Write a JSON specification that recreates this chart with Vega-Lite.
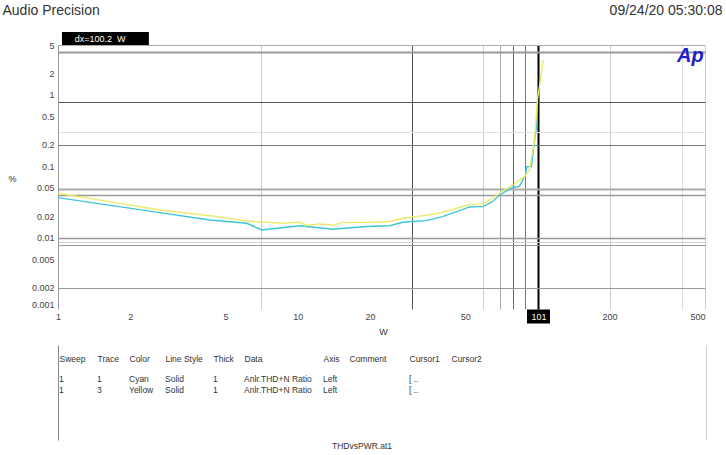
{
  "$schema": "https://vega.github.io/schema/vega-lite/v6.json",
  "background": "#ffffff",
  "padding": {"left": 2, "top": 3, "right": 4, "bottom": 5},
  "bounds": "flush",
  "spacing": 36,
  "title": {"text": "THDvsPWR.at1", "orient": "bottom", "anchor": "middle", "frame": "group", "offset": 2, "dx": 304, "fontSize": 8.5, "fontWeight": "normal", "color": "#333333"},
  "config": {
    "view": {"stroke": null},
    "font": "Liberation Sans",
    "axis": {"labelFont": "Liberation Sans", "titleFont": "Liberation Sans"},
    "title": {"font": "Liberation Sans"}
  },
  "datasets": {
    "curves": [
      {"series": "Cyan", "W": 1.0, "pct": 0.0363},
      {"series": "Cyan", "W": 1.5, "pct": 0.0297},
      {"series": "Cyan", "W": 2.66, "pct": 0.0224},
      {"series": "Cyan", "W": 4.3, "pct": 0.0177},
      {"series": "Cyan", "W": 6.13, "pct": 0.0159},
      {"series": "Cyan", "W": 7.08, "pct": 0.0128},
      {"series": "Cyan", "W": 10.2, "pct": 0.0147},
      {"series": "Cyan", "W": 14.0, "pct": 0.0131},
      {"series": "Cyan", "W": 19.4, "pct": 0.0143},
      {"series": "Cyan", "W": 24.2, "pct": 0.0147},
      {"series": "Cyan", "W": 27.4, "pct": 0.0164},
      {"series": "Cyan", "W": 30.1, "pct": 0.0168},
      {"series": "Cyan", "W": 34.5, "pct": 0.0173},
      {"series": "Cyan", "W": 40.2, "pct": 0.0197},
      {"series": "Cyan", "W": 46.0, "pct": 0.0231},
      {"series": "Cyan", "W": 52.1, "pct": 0.0269},
      {"series": "Cyan", "W": 59.6, "pct": 0.0274},
      {"series": "Cyan", "W": 64.9, "pct": 0.0319},
      {"series": "Cyan", "W": 69.5, "pct": 0.0396},
      {"series": "Cyan", "W": 78.7, "pct": 0.0505},
      {"series": "Cyan", "W": 84.1, "pct": 0.0522},
      {"series": "Cyan", "W": 89.1, "pct": 0.0755},
      {"series": "Cyan", "W": 90.2, "pct": 0.0988},
      {"series": "Cyan", "W": 94.4, "pct": 0.0988},
      {"series": "Cyan", "W": 96.2, "pct": 0.169},
      {"series": "Cyan", "W": 99.0, "pct": 0.359},
      {"series": "Cyan", "W": 100.0, "pct": 0.684},
      {"series": "Yellow", "W": 1.0, "pct": 0.0419},
      {"series": "Yellow", "W": 1.5, "pct": 0.0335},
      {"series": "Yellow", "W": 2.66, "pct": 0.0244},
      {"series": "Yellow", "W": 4.3, "pct": 0.0203},
      {"series": "Yellow", "W": 6.13, "pct": 0.0171},
      {"series": "Yellow", "W": 7.43, "pct": 0.0164},
      {"series": "Yellow", "W": 8.66, "pct": 0.0159},
      {"series": "Yellow", "W": 10.2, "pct": 0.0164},
      {"series": "Yellow", "W": 10.9, "pct": 0.0148},
      {"series": "Yellow", "W": 12.35, "pct": 0.0156},
      {"series": "Yellow", "W": 14.0, "pct": 0.015},
      {"series": "Yellow", "W": 15.4, "pct": 0.0162},
      {"series": "Yellow", "W": 20.5, "pct": 0.0164},
      {"series": "Yellow", "W": 24.2, "pct": 0.0168},
      {"series": "Yellow", "W": 27.4, "pct": 0.0187},
      {"series": "Yellow", "W": 32.2, "pct": 0.02},
      {"series": "Yellow", "W": 39.0, "pct": 0.022},
      {"series": "Yellow", "W": 46.0, "pct": 0.0258},
      {"series": "Yellow", "W": 52.1, "pct": 0.029},
      {"series": "Yellow", "W": 59.6, "pct": 0.0297},
      {"series": "Yellow", "W": 69.5, "pct": 0.0419},
      {"series": "Yellow", "W": 78.7, "pct": 0.0547},
      {"series": "Yellow", "W": 88.3, "pct": 0.0715},
      {"series": "Yellow", "W": 92.6, "pct": 0.0887},
      {"series": "Yellow", "W": 97.2, "pct": 0.234},
      {"series": "Yellow", "W": 100.0, "pct": 0.849},
      {"series": "Yellow", "W": 102.9, "pct": 1.62},
      {"series": "Yellow", "W": 105.9, "pct": 3.08}
    ],
    "table": [
      {"Sweep": "1", "Trace": 1, "Color": "Cyan", "LineStyle": "Solid", "Thick": "1", "Data": "Anlr.THD+N Ratio", "Axis": "Left", "Comment": "", "Cursor1": "[ ..", "Cursor2": ""},
      {"Sweep": "1", "Trace": 3, "Color": "Yellow", "LineStyle": "Solid", "Thick": "1", "Data": "Anlr.THD+N Ratio", "Axis": "Left", "Comment": "", "Cursor1": "[ ..", "Cursor2": ""}
    ]
  },
  "vconcat": [
    {
      "width": 647,
      "height": 264,
      "data": {"name": "curves"},
      "resolve": {"axis": {"x": "independent", "y": "independent"}},
      "layer": [
        {
          "mark": {"type": "line", "strokeWidth": 1.4},
          "encoding": {
            "x": {
              "field": "W", "type": "quantitative",
              "scale": {"type": "log", "domain": [1, 500], "nice": false},
              "axis": {
                "values": [1, 2, 5, 7, 10, 20, 30, 50, 59, 69.5, 79, 89, 101, 200, 400, 500],
                "format": "~g",
                "labelExpr": "indexof([1, 2, 5, 10, 20, 50, 101, 200, 500], datum.value) >= 0 ? datum.label : ''",
                "labelOverlap": false,
                "labelFontSize": 9,
                "labelPadding": -10.5,
                "labelColor": {"condition": {"test": "datum.value == 101", "value": "#ffffff"}, "value": "#444444"},
                "labelAlign": {"condition": {"test": "datum.value == 500", "value": "right"}, "value": "center"},
                "ticks": true,
                "tickSize": 14,
                "tickColor": "#000000",
                "tickWidth": {"condition": {"test": "datum.value == 101", "value": 23}, "value": 0},
                "tickOpacity": {"condition": {"test": "datum.value == 101", "value": 1}, "value": 0},
                "domain": false,
                "grid": true,
                "gridColor": {"condition": [
                  {"test": "datum.value == 30", "value": "#555555"},
                  {"test": "datum.value == 69.5", "value": "#aaaaaa"},
                  {"test": "datum.value == 79", "value": "#666666"},
                  {"test": "datum.value == 89", "value": "#777777"},
                  {"test": "datum.value == 101", "value": "#000000"},
                  {"test": "datum.value == 400", "value": "#dddddd"}
                ], "value": "#cccccc"},
                "gridWidth": {"condition": {"test": "datum.value == 101", "value": 2}, "value": 1},
                "gridOpacity": {"condition": {"test": "indexof([7, 30, 59, 69.5, 79, 89, 101, 200, 400, 500], datum.value) >= 0", "value": 1}, "value": 0},
                "title": "W",
                "titleFontSize": 9,
                "titleFontWeight": "normal",
                "titleColor": "#333333",
                "titleX": 325,
                "titleY": 22,
                "titleBaseline": "middle"
              }
            },
            "y": {
              "field": "pct", "type": "quantitative",
              "scale": {"type": "log", "domain": [0.001, 5], "nice": false},
              "axis": {
                "values": [5, 4, 2, 1, 0.8, 0.5, 0.3, 0.2, 0.1, 0.05, 0.048, 0.04, 0.02, 0.01, 0.0088, 0.0079, 0.005, 0.002, 0.001],
                "format": "~g",
                "labelExpr": "indexof([5, 2, 1, 0.5, 0.2, 0.1, 0.05, 0.02, 0.01, 0.005, 0.002, 0.001], datum.value) >= 0 ? datum.label : ''",
                "labelOverlap": false,
                "labelFontSize": 9,
                "labelColor": "#444444",
                "labelPadding": 4,
                "labelBaseline": {"condition": {"test": "datum.value == 0.001", "value": "bottom"}, "value": "middle"},
                "ticks": false,
                "domain": true,
                "domainColor": "#999999",
                "grid": true,
                "gridColor": {"condition": [
                  {"test": "datum.value == 5", "value": "#aaaaaa"},
                  {"test": "datum.value == 0.8", "value": "#555555"},
                  {"test": "datum.value == 0.3", "value": "#e2e2e2"},
                  {"test": "datum.value == 0.2", "value": "#777777"},
                  {"test": "datum.value == 0.048", "value": "#aaaaaa"},
                  {"test": "datum.value == 0.0088", "value": "#cccccc"}
                ], "value": "#999999"},
                "gridWidth": {"condition": [
                  {"test": "datum.value == 4", "value": 2},
                  {"test": "datum.value == 0.048", "value": 2},
                  {"test": "datum.value == 0.04", "value": 1.5},
                  {"test": "datum.value == 0.01", "value": 1.5}
                ], "value": 1},
                "gridOpacity": {"condition": {"test": "indexof([5, 4, 0.8, 0.3, 0.2, 0.048, 0.04, 0.01, 0.0088, 0.0079, 0.002], datum.value) >= 0", "value": 1}, "value": 0},
                "title": "%",
                "titleAngle": 0,
                "titleX": -46,
                "titleY": 133,
                "titleAlign": "center",
                "titleBaseline": "middle",
                "titleFontSize": 9,
                "titleFontWeight": "normal",
                "titleColor": "#333333"
              }
            },
            "color": {"field": "series", "type": "nominal", "scale": {"domain": ["Cyan", "Yellow"], "range": ["#40c4d8", "#ecec6a"]}, "legend": null}
          }
        },
        {
          "data": {"values": [{}]},
          "mark": {"type": "rect", "color": "#000000"},
          "encoding": {
            "x": {"datum": 1.039, "type": "quantitative", "axis": null},
            "x2": {"datum": 2.394},
            "y": {"datum": 7.6, "type": "quantitative", "axis": null},
            "y2": {"datum": 5}
          }
        },
        {
          "data": {"values": [{}]},
          "mark": {"type": "text", "text": "dx=100.2\u00a0 W", "color": "#ffffff", "fontSize": 9, "align": "center", "baseline": "middle"},
          "encoding": {
            "x": {"datum": 1.5, "type": "quantitative", "axis": null},
            "y": {"datum": 6.07, "type": "quantitative", "axis": null}
          }
        },
        {
          "data": {"values": [{}]},
          "mark": {"type": "text", "text": "Ap", "color": "#1f1fc8", "fontSize": 20, "fontWeight": "bold", "fontStyle": "italic", "align": "center", "baseline": "alphabetic"},
          "encoding": {
            "x": {"datum": 434, "type": "quantitative", "axis": {
              "orient": "top", "domain": false, "ticks": false, "grid": false,
              "values": [1],
              "labels": true,
              "labelExpr": "'Audio Precision'",
              "labelAlign": "left",
              "labelBaseline": "middle",
              "labelOffset": -56,
              "labelPadding": 35,
              "labelFontSize": 14,
              "labelColor": "#333333",
              "labelOverlap": false,
              "labelBound": false,
              "labelFlush": false,
              "title": "09/24/20 05:30:08", "titleX": 664, "titleY": -35, "titleAlign": "right", "titleBaseline": "middle", "titleFontSize": 14, "titleFontWeight": "normal", "titleColor": "#333333"}},
            "y": {"datum": 2.9, "type": "quantitative", "axis": null}
          }
        }
      ]
    },
    {
      "hconcat": [
        {"width": 38, "height": 95, "data": {"name": "table"},
         "mark": {"type": "text", "align": "left", "baseline": "middle", "dx": 1, "fontSize": 8.5, "color": "#333333"},
         "encoding": {
           "x": {"datum": 0, "type": "quantitative", "scale": {"domain": [0, 1]}, "axis": {"orient": "top", "title": "Sweep", "domain": false, "ticks": false, "labels": false, "grid": false, "titleX": 1, "titleY": 13, "titleAlign": "left", "titleBaseline": "middle", "titleFontSize": 8.5, "titleFontWeight": "normal", "titleColor": "#333333"}},
           "y": {"field": "Trace", "type": "quantitative", "scale": {"domain": [-5.18, 12.09], "reverse": true, "nice": false, "zero": false}, "axis": {"domain": true, "domainColor": "#8a8a8a", "labels": false, "ticks": false, "grid": false, "title": null}},
           "text": {"field": "Sweep"}
         }},
        {"width": 32, "height": 95, "data": {"name": "table"},
         "mark": {"type": "text", "align": "left", "baseline": "middle", "dx": 1, "fontSize": 8.5, "color": "#333333"},
         "encoding": {
           "x": {"datum": 0, "type": "quantitative", "scale": {"domain": [0, 1]}, "axis": {"orient": "top", "title": "Trace", "domain": false, "ticks": false, "labels": false, "grid": false, "titleX": 1, "titleY": 13, "titleAlign": "left", "titleBaseline": "middle", "titleFontSize": 8.5, "titleFontWeight": "normal", "titleColor": "#333333"}},
           "y": {"field": "Trace", "type": "quantitative", "scale": {"domain": [-5.18, 12.09], "reverse": true, "nice": false, "zero": false}, "axis": null},
           "text": {"field": "Trace"}
         }},
        {"width": 36, "height": 95, "data": {"name": "table"},
         "mark": {"type": "text", "align": "left", "baseline": "middle", "dx": 1, "fontSize": 8.5, "color": "#333333"},
         "encoding": {
           "x": {"datum": 0, "type": "quantitative", "scale": {"domain": [0, 1]}, "axis": {"orient": "top", "title": "Color", "domain": false, "ticks": false, "labels": false, "grid": false, "titleX": 1, "titleY": 13, "titleAlign": "left", "titleBaseline": "middle", "titleFontSize": 8.5, "titleFontWeight": "normal", "titleColor": "#333333"}},
           "y": {"field": "Trace", "type": "quantitative", "scale": {"domain": [-5.18, 12.09], "reverse": true, "nice": false, "zero": false}, "axis": null},
           "text": {"field": "Color"}
         }},
        {"width": 48, "height": 95, "data": {"name": "table"},
         "mark": {"type": "text", "align": "left", "baseline": "middle", "dx": 1, "fontSize": 8.5, "color": "#333333"},
         "encoding": {
           "x": {"datum": 0, "type": "quantitative", "scale": {"domain": [0, 1]}, "axis": {"orient": "top", "title": "Line Style", "domain": false, "ticks": false, "labels": false, "grid": false, "titleX": 1, "titleY": 13, "titleAlign": "left", "titleBaseline": "middle", "titleFontSize": 8.5, "titleFontWeight": "normal", "titleColor": "#333333"}},
           "y": {"field": "Trace", "type": "quantitative", "scale": {"domain": [-5.18, 12.09], "reverse": true, "nice": false, "zero": false}, "axis": null},
           "text": {"field": "LineStyle"}
         }},
        {"width": 31, "height": 95, "data": {"name": "table"},
         "mark": {"type": "text", "align": "left", "baseline": "middle", "dx": 1, "fontSize": 8.5, "color": "#333333"},
         "encoding": {
           "x": {"datum": 0, "type": "quantitative", "scale": {"domain": [0, 1]}, "axis": {"orient": "top", "title": "Thick", "domain": false, "ticks": false, "labels": false, "grid": false, "titleX": 1, "titleY": 13, "titleAlign": "left", "titleBaseline": "middle", "titleFontSize": 8.5, "titleFontWeight": "normal", "titleColor": "#333333"}},
           "y": {"field": "Trace", "type": "quantitative", "scale": {"domain": [-5.18, 12.09], "reverse": true, "nice": false, "zero": false}, "axis": null},
           "text": {"field": "Thick"}
         }},
        {"width": 79, "height": 95, "data": {"name": "table"},
         "mark": {"type": "text", "align": "left", "baseline": "middle", "dx": 1, "fontSize": 8.5, "color": "#333333"},
         "encoding": {
           "x": {"datum": 0, "type": "quantitative", "scale": {"domain": [0, 1]}, "axis": {"orient": "top", "title": "Data", "domain": false, "ticks": false, "labels": false, "grid": false, "titleX": 1, "titleY": 13, "titleAlign": "left", "titleBaseline": "middle", "titleFontSize": 8.5, "titleFontWeight": "normal", "titleColor": "#333333"}},
           "y": {"field": "Trace", "type": "quantitative", "scale": {"domain": [-5.18, 12.09], "reverse": true, "nice": false, "zero": false}, "axis": null},
           "text": {"field": "Data"}
         }},
        {"width": 26, "height": 95, "data": {"name": "table"},
         "mark": {"type": "text", "align": "left", "baseline": "middle", "dx": 1, "fontSize": 8.5, "color": "#333333"},
         "encoding": {
           "x": {"datum": 0, "type": "quantitative", "scale": {"domain": [0, 1]}, "axis": {"orient": "top", "title": "Axis", "domain": false, "ticks": false, "labels": false, "grid": false, "titleX": 1, "titleY": 13, "titleAlign": "left", "titleBaseline": "middle", "titleFontSize": 8.5, "titleFontWeight": "normal", "titleColor": "#333333"}},
           "y": {"field": "Trace", "type": "quantitative", "scale": {"domain": [-5.18, 12.09], "reverse": true, "nice": false, "zero": false}, "axis": null},
           "text": {"field": "Axis"}
         }},
        {"width": 60, "height": 95, "data": {"name": "table"},
         "mark": {"type": "text", "align": "left", "baseline": "middle", "dx": 1, "fontSize": 8.5, "color": "#333333"},
         "encoding": {
           "x": {"datum": 0, "type": "quantitative", "scale": {"domain": [0, 1]}, "axis": {"orient": "top", "title": "Comment", "domain": false, "ticks": false, "labels": false, "grid": false, "titleX": 1, "titleY": 13, "titleAlign": "left", "titleBaseline": "middle", "titleFontSize": 8.5, "titleFontWeight": "normal", "titleColor": "#333333"}},
           "y": {"field": "Trace", "type": "quantitative", "scale": {"domain": [-5.18, 12.09], "reverse": true, "nice": false, "zero": false}, "axis": null},
           "text": {"field": "Comment"}
         }},
        {"width": 42, "height": 95, "data": {"name": "table"},
         "mark": {"type": "text", "align": "left", "baseline": "middle", "dx": 1, "fontSize": 8.5, "color": "#333333"},
         "encoding": {
           "x": {"datum": 0, "type": "quantitative", "scale": {"domain": [0, 1]}, "axis": {"orient": "top", "title": "Cursor1", "domain": false, "ticks": false, "labels": false, "grid": false, "titleX": 1, "titleY": 13, "titleAlign": "left", "titleBaseline": "middle", "titleFontSize": 8.5, "titleFontWeight": "normal", "titleColor": "#333333"}},
           "y": {"field": "Trace", "type": "quantitative", "scale": {"domain": [-5.18, 12.09], "reverse": true, "nice": false, "zero": false}, "axis": null},
           "text": {"field": "Cursor1"}
         }},
        {"width": 256, "height": 95, "data": {"name": "table"},
         "mark": {"type": "text", "align": "left", "baseline": "middle", "dx": 1, "fontSize": 8.5, "color": "#333333"},
         "encoding": {
           "x": {"datum": 0, "type": "quantitative", "scale": {"domain": [0, 1]}, "axis": {"orient": "top", "title": "Cursor2", "domain": false, "ticks": false, "labels": false, "grid": false, "titleX": 1, "titleY": 13, "titleAlign": "left", "titleBaseline": "middle", "titleFontSize": 8.5, "titleFontWeight": "normal", "titleColor": "#333333"}},
           "y": {"field": "Trace", "type": "quantitative", "scale": {"domain": [-5.18, 12.09], "reverse": true, "nice": false, "zero": false}, "axis": {"orient": "right", "domain": true, "domainColor": "#d0d0d0", "labels": false, "ticks": false, "grid": false, "title": null}},
           "text": {"field": "Cursor2"}
         }}
      ],
      "spacing": 0,
      "bounds": "flush"
    }
  ]
}
